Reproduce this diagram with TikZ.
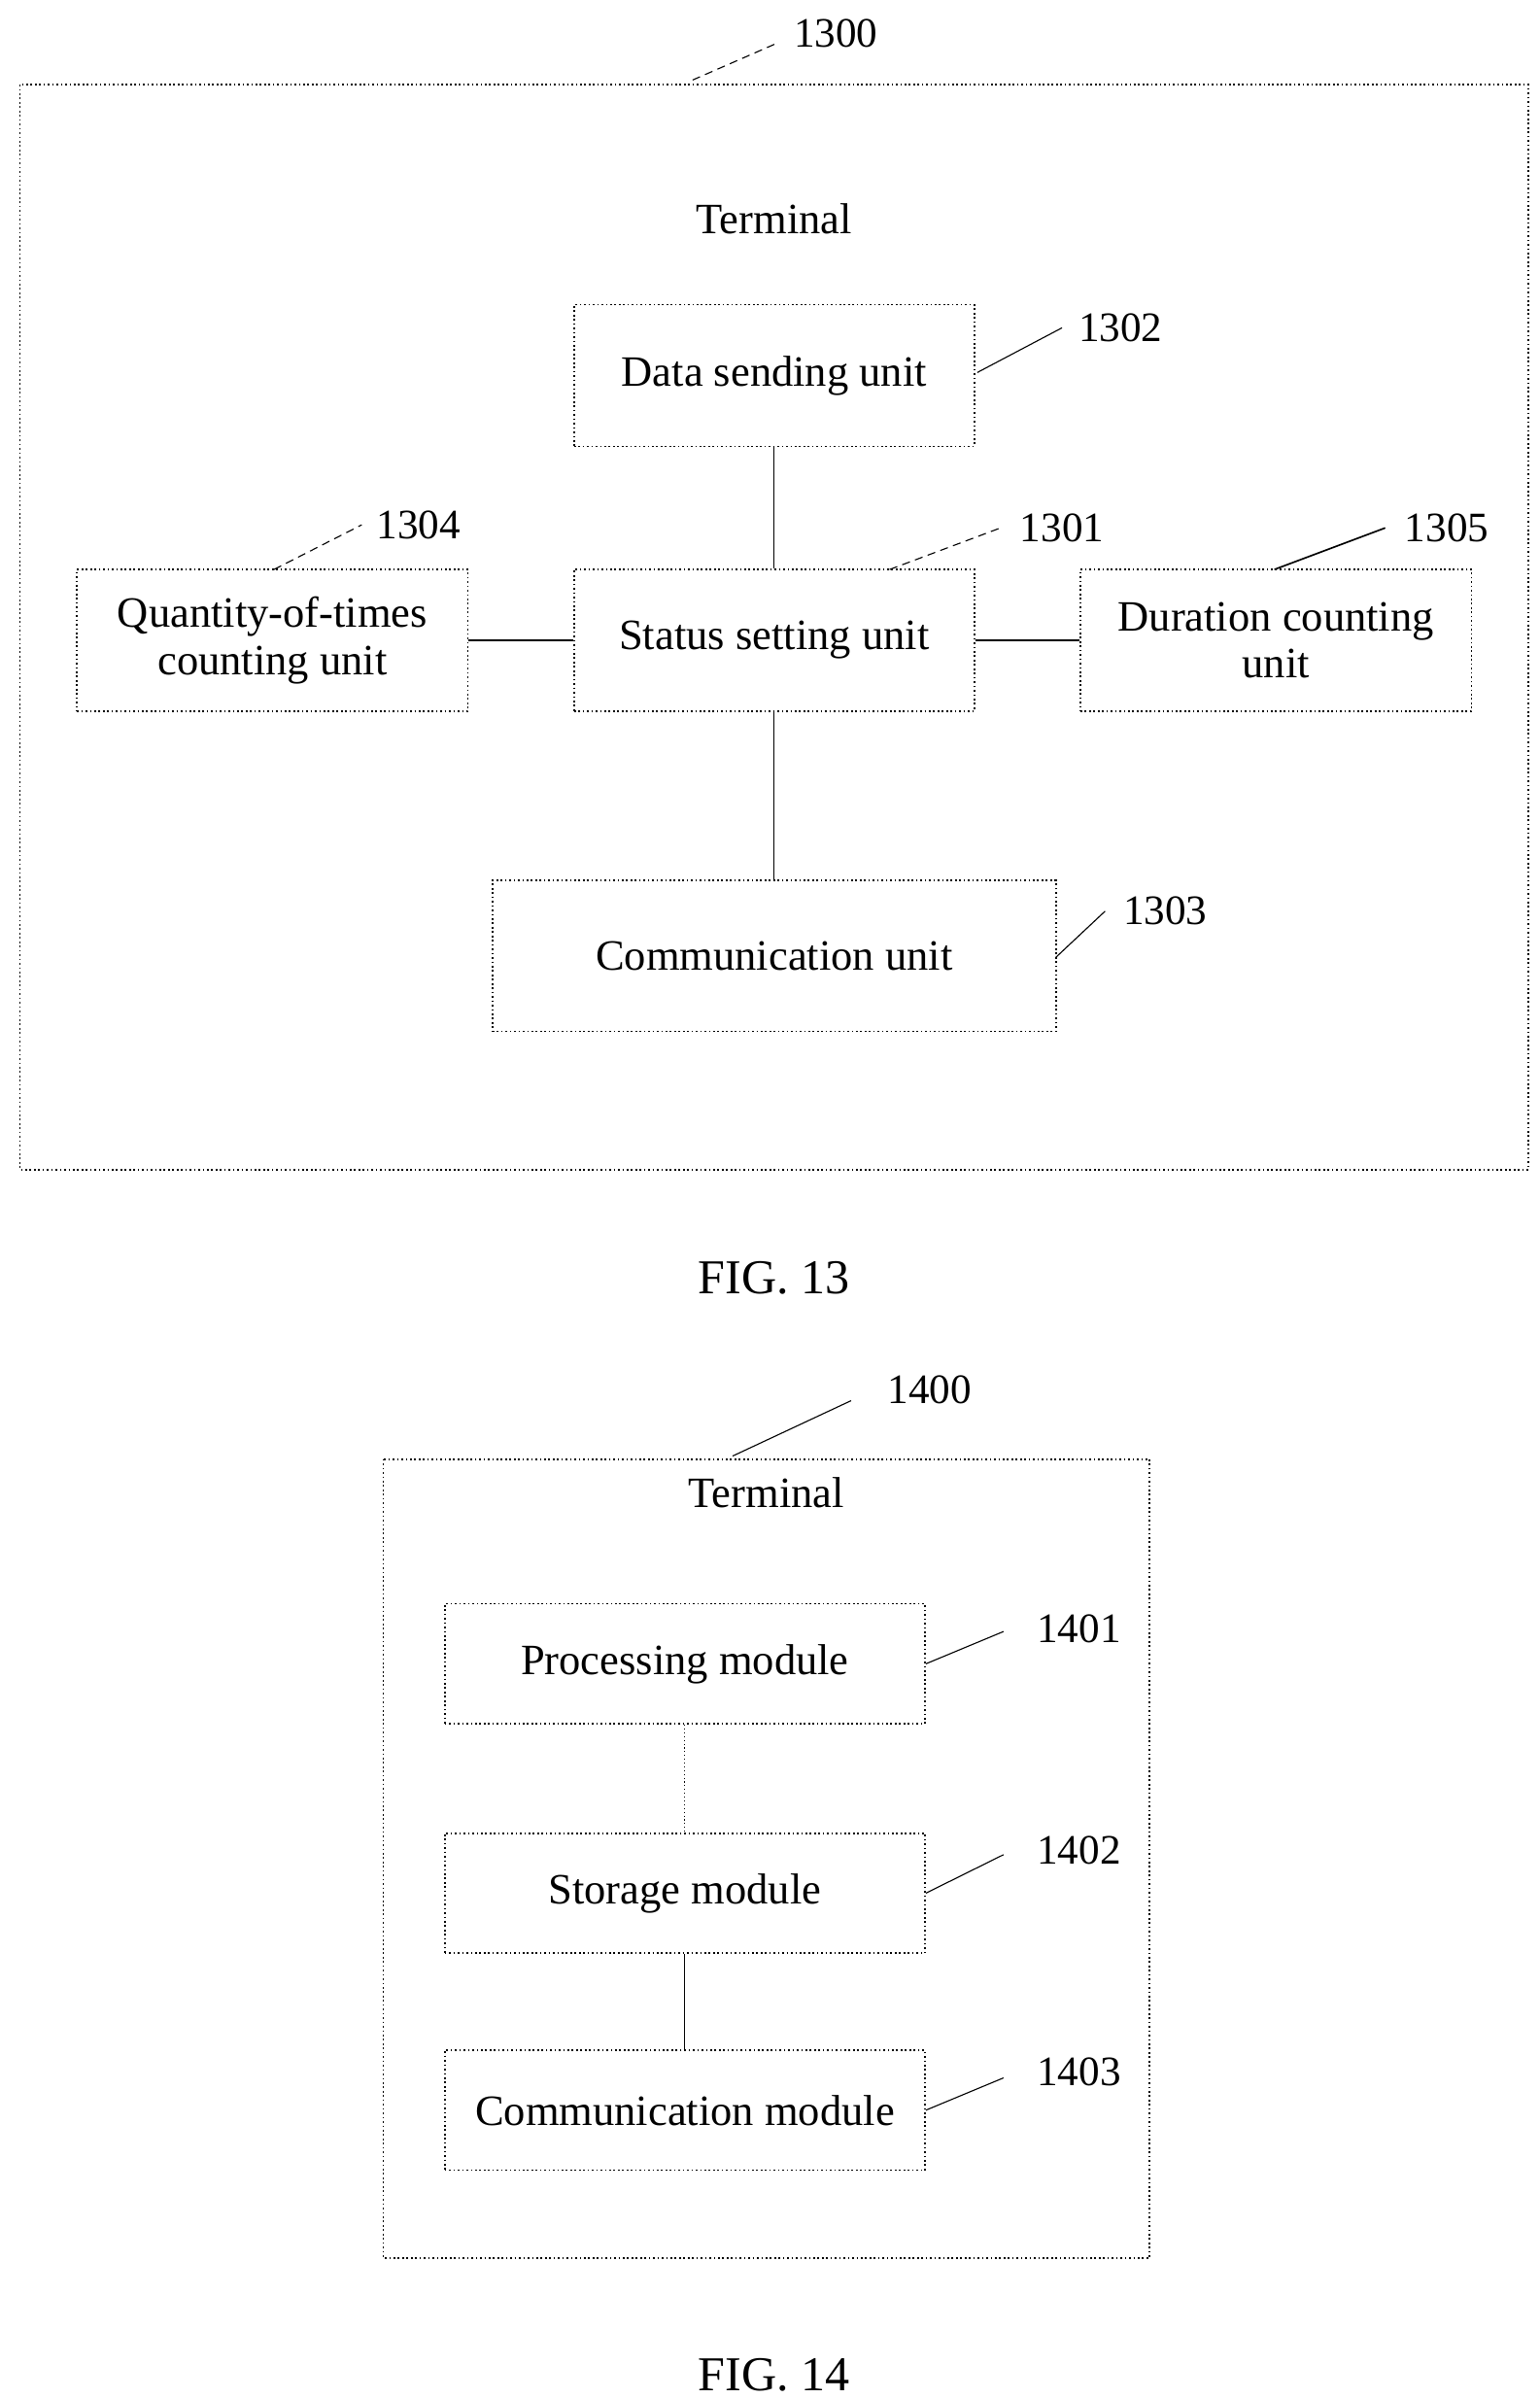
\documentclass[tikz,border=0pt]{standalone}
\usepackage{fontspec}
\setmainfont{Liberation Serif}
\usetikzlibrary{positioning}
\tikzset{unit/.style={draw,densely dotted,semithick,align=center,inner sep=2pt},
 lead/.style={thin},
 num/.style={font=\fontsize{15.5}{18}\selectfont}}
\begin{document}
\begin{tikzpicture}[x=0.02cm,y=-0.02cm,font=\fontsize{16}{17.5}\selectfont]
\useasboundingbox (0,0) rectangle (1000,1558);
% FIG. 13
\draw[densely dotted,semithick] (13,55) rectangle (993,760);
\node (t1) at (503,142) {Terminal};
\node[unit,minimum width=260*0.02cm,minimum height=92*0.02cm] (ds) at (503,244) {Data sending unit};
\node[unit,minimum width=260*0.02cm,minimum height=92*0.02cm] (ss) at (503,416) {Status setting unit};
\node[unit,minimum width=254*0.02cm,minimum height=92*0.02cm] (qc) at (177,416) {Quantity-of-times\\counting unit};
\node[unit,minimum width=254*0.02cm,minimum height=92*0.02cm] (dc) at (829,416) {Duration counting\\unit};
\node[unit,minimum width=366*0.02cm,minimum height=98*0.02cm] (cu) at (503,621) {Communication unit};
\draw[thin] (ds) -- (ss);
\draw (ss) -- (qc);
\draw (ss) -- (dc);
\draw (ss) -- (cu);
\node[num] (n1300) at (543,22) {1300};
\node[num] (n1302) at (728,213) {1302};
\node[num] (n1301) at (690,343) {1301};
\node[num] (n1304) at (272,341) {1304};
\node[num] (n1305) at (940,343) {1305};
\node[num] (n1303) at (757,592) {1303};
\coordinate (a1300) at (450,52); \coordinate (b1300) at (505,28);
\coordinate (a1302) at (635,242); \coordinate (b1302) at (690,213);
\coordinate (a1301) at (578,370); \coordinate (b1301) at (650,343);
\coordinate (a1304) at (178,370); \coordinate (b1304) at (235,341);
\coordinate (a1305) at (828,370); \coordinate (b1305) at (900,343);
\coordinate (a1303) at (686,622); \coordinate (b1303) at (718,592);
\draw[lead,densely dashed] (a1300) -- (b1300);
\draw[lead] (a1302) -- (b1302);
\draw[lead,densely dashed] (a1301) -- (b1301);
\draw[lead,densely dashed] (a1304) -- (b1304);
\draw[semithick] (a1305) -- (b1305);
\draw[lead] (a1303) -- (b1303);
\node[font=\fontsize{18}{20}\selectfont] (f13) at (503,830) {FIG. 13};
% FIG. 14
\draw[densely dotted,semithick] (249,948) rectangle (747,1467);
\node (t2) at (498,970) {Terminal};
\node[unit,minimum width=312*0.02cm,minimum height=78*0.02cm] (pm) at (445,1081) {Processing module};
\node[unit,minimum width=312*0.02cm,minimum height=78*0.02cm] (sm) at (445,1230) {Storage module};
\node[unit,minimum width=312*0.02cm,minimum height=78*0.02cm] (cm) at (445,1371) {Communication module};
\draw[thin,densely dotted] (pm) -- (sm);
\draw (sm) -- (cm);
\node[num] (n1400) at (604,903) {1400};
\node[num] (n1401) at (701,1058) {1401};
\node[num] (n1402) at (701,1202) {1402};
\node[num] (n1403) at (701,1346) {1403};
\draw (476,946) -- (553,910);
\draw (pm.east) -- (652,1060);
\draw (sm.east) -- (652,1205);
\draw (cm.east) -- (652,1350);
\node[font=\fontsize{18}{20}\selectfont] (f14) at (503,1543) {FIG. 14};
\end{tikzpicture}
\end{document}
